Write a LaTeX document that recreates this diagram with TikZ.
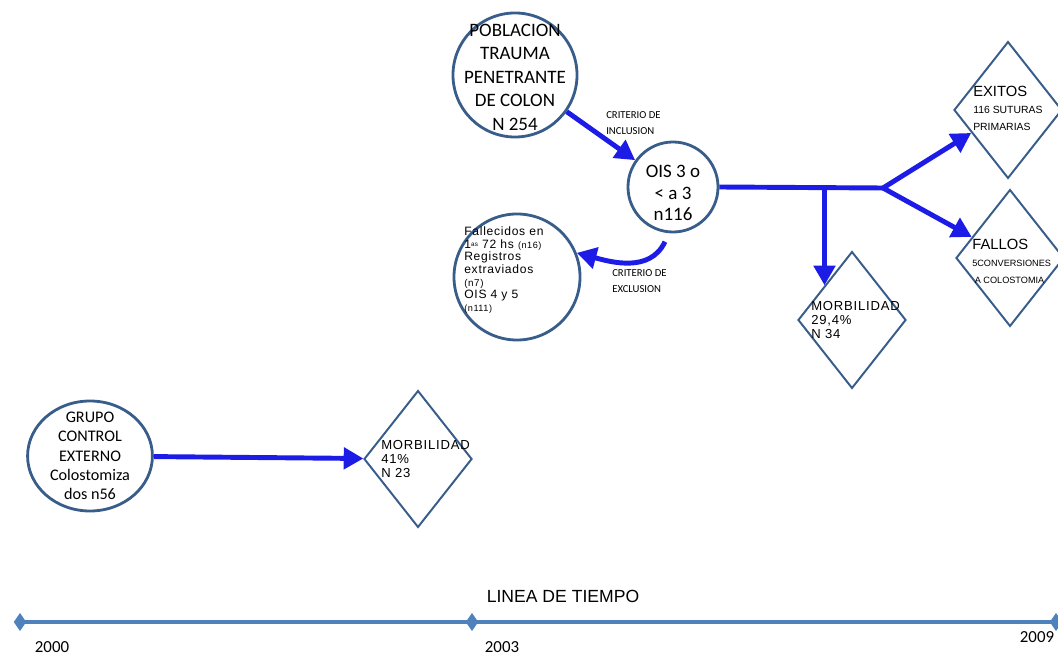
\documentclass[tikz,border=0pt]{standalone}
\usepackage{fontspec}
\setmainfont{Carlito}
\newfontfamily\arialfont{Liberation Sans}
\newfontfamily\arialwide[LetterSpace=6]{Liberation Sans}
\usetikzlibrary{shapes.geometric,arrows.meta,positioning,calc}

\definecolor{ringblue}{HTML}{385D8A}
\definecolor{flowblue}{HTML}{1C1CE6}
\definecolor{timeblue}{HTML}{4F81BD}

\begin{document}
\begin{tikzpicture}[x=0.025cm,y=-0.025cm,
    ring/.style={draw=ringblue,line width=2pt,circle,inner sep=0pt},
    diam/.style={draw=ringblue,line width=1.4pt,diamond,inner sep=0pt,minimum width=2.7cm,minimum height=3.42cm},
    flow/.style={draw=flowblue,line width=3.5pt,-{Triangle[length=14pt,width=15pt]}},
    ctxt/.style={align=center,font=\fontsize{13.5}{16.7}\selectfont},
    dtxt/.style={font=\arialwide\fontsize{9.3}{10}\selectfont,align=left,inner sep=0pt,anchor=west},
    crit/.style={font=\fontsize{7.6}{11.5}\selectfont,align=left,inner sep=0pt},
    year/.style={font=\fontsize{12}{14}\selectfont,inner sep=0pt},
    tick/.style={fill=timeblue,diamond,inner sep=0pt,minimum width=9pt,minimum height=13pt}]
  \useasboundingbox (0,0) rectangle (1058,655);

  \node[ring,minimum size=3.1cm,label={[ctxt,yshift=-0.05cm]center:POBLACION\\TRAUMA\\PENETRANTE\\DE COLON\\N 254}] (pob) at (515,75) {};
  \node[ring,minimum size=2.25cm,label={[ctxt,font=\fontsize{13.5}{15.5}\selectfont,yshift=-0.15cm]center:OIS 3 o\\< a 3\\n116}] (ois) at (673,187) {};
  \node[ring,minimum size=3.15cm] (fall) at (517,277) {};
  \node[anchor=west,inner sep=0pt,align=left,font=\arialwide\fontsize{8.6}{9}\selectfont] at (464,270)
    {Fallecidos en\\1{\fontsize{4.5}{4.5}\selectfont\raisebox{0.35ex}{as}} 72 hs {\fontsize{6.5}{6}\selectfont(n16)}\\Registros\\extraviados\\{\fontsize{7}{6}\selectfont(n7)}\\OIS 4 y 5\\{\fontsize{6.5}{6}\selectfont(n111)}};
  \node[ring,ellipse,minimum width=3.12cm,minimum height=2.75cm,label={[ctxt,font=\fontsize{11.5}{13.8}\selectfont]center:GRUPO\\CONTROL\\EXTERNO\\Colostomiza\\dos n56}] (grupo) at (90,456) {};

  \node[diam] (morb1) at (418,459) {};
  \node[dtxt] at ([xshift=0.45cm]morb1.west) {MORBILIDAD\\41\%\\N 23};
  \node[diam] (morb2) at (852,320) {};
  \node[dtxt] at ([xshift=0.35cm]morb2.west) {MORBILIDAD\\29,4\%\\N 34};
  \node[diam] (exitos) at (1008,110) {};
  \node[dtxt,font=\arialfont,anchor=north west] at (973,86) {{\fontsize{10.5}{11}\selectfont EXITOS}\\{\fontsize{7.4}{7.5}\selectfont 116 SUTURAS}\\{\fontsize{7.4}{7.5}\selectfont PRIMARIAS}};
  \node[diam] (fallos) at (1010,258) {};
  \node[dtxt,font=\arialfont,anchor=north west] at (972,239) {{\fontsize{10.5}{11}\selectfont FALLOS}\\{\fontsize{6.5}{6.8}\selectfont 5CONVERSIONES}\\{\fontsize{6.5}{6.8}\selectfont\ A COLOSTOMIA}};

  \coordinate (junc) at (883,188);
  \coordinate (drop) at (ois.east -| morb2.north west);
  \draw[flow] (pob) -- (ois);
  \draw[draw=flowblue,line width=3.5pt] (ois.east) -- (junc);
  \draw[flow] (drop) -- (morb2.north west);
  \draw[flow] (junc) -- (exitos);
  \draw[flow] (junc) -- (fallos);
  \draw[flow] ($(ois.-100)+(0,9)$) to[out=-115,in=-15] (fall.22);
  \draw[flow] (grupo) -- (morb1);

  \node[crit,anchor=west] at (606,123) {CRITERIO DE\\INCLUSION};
  \node[crit,anchor=west] at (612,281) {CRITERIO DE\\EXCLUSION};

  \node[tick] (t0) at (20,622) {};
  \node[tick] (t3) at (472,622) {};
  \node[tick] (t9) at (1056,622) {};
  \draw[timeblue,line width=3.5pt] (t0.center) -- (t3.center) -- (t9.center);
  \node[font=\arialfont\fontsize{12.5}{14}\selectfont] at (563,596) {LINEA DE TIEMPO};
  \node[year] at (52,647) {2000};
  \node[year] at (502,647) {2003};
  \node[year] at (1037,637) {2009};
\end{tikzpicture}
\end{document}
